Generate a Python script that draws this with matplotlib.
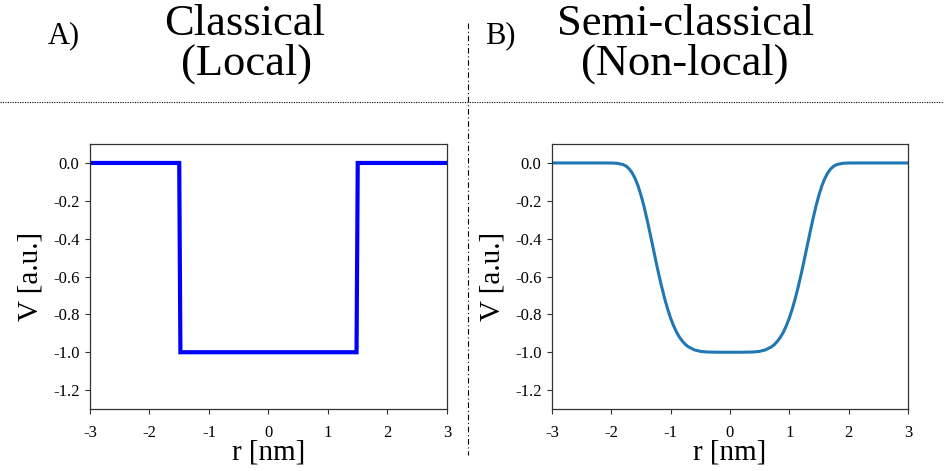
import matplotlib
matplotlib.use("Agg")
import matplotlib.pyplot as plt
from matplotlib.lines import Line2D

plt.rcParams['font.family'] = ['Liberation Serif', 'DejaVu Serif']
plt.rcParams['axes.unicode_minus'] = False

# classical (local) potential: hard square well
r_local = [-3.0, -1.5, -1.48, 1.48, 1.5, 3.0]
v_local = [0.0, 0.0, -1.0, -1.0, 0.0, 0.0]

# semi-classical (non-local) potential: smoothed well
r_nonlocal = [-3.0, -2.5, -2.2, -2.0, -1.9, -1.8, -1.75, -1.7, -1.65, -1.6, -1.55,
              -1.5, -1.45, -1.4, -1.35, -1.3, -1.25, -1.2, -1.15, -1.1, -1.05, -1.0,
              -0.95, -0.9, -0.85, -0.8, -0.75, -0.7, -0.6, -0.5, -0.4, -0.2, 0.0,
              0.2, 0.4, 0.5, 0.6, 0.7, 0.75, 0.8, 0.85, 0.9, 0.95, 1.0,
              1.05, 1.1, 1.15, 1.2, 1.25, 1.3, 1.35, 1.4, 1.45, 1.5, 1.55,
              1.6, 1.65, 1.7, 1.75, 1.8, 1.9, 2.0, 2.2, 2.5, 3.0]
v_nonlocal = [0.0, 0.0, 0.0, -0.0002, -0.0018, -0.0087, -0.0169, -0.0306, -0.0515, -0.081, -0.120,
              -0.170, -0.228, -0.295, -0.3665, -0.441, -0.5155, -0.588, -0.655, -0.717, -0.772, -0.820,
              -0.860, -0.894, -0.921, -0.942, -0.959, -0.9715, -0.9875, -0.9953, -0.9986, -1.0, -1.0,
              -1.0, -0.9986, -0.9953, -0.9875, -0.9715, -0.959, -0.942, -0.921, -0.894, -0.860, -0.820,
              -0.772, -0.717, -0.655, -0.588, -0.5155, -0.441, -0.3665, -0.295, -0.228, -0.170, -0.120,
              -0.081, -0.0515, -0.0306, -0.0169, -0.0087, -0.0018, -0.0002, 0.0, 0.0, 0.0]

x_ticks = [-3, -2, -1, 0, 1, 2, 3]
x_labels = ['-3', '-2', '-1', '0', '1', '2', '3']
y_ticks = [0.0, -0.2, -0.4, -0.6, -0.8, -1.0, -1.2]
y_labels = ['0.0', '-0.2', '-0.4', '-0.6', '-0.8', '-1.0', '-1.2']

fig = plt.figure(figsize=(9.44, 4.71), dpi=100)
ax_a = fig.add_axes([0.0953, 0.1316, 0.3782, 0.5626])
ax_b = fig.add_axes([0.5847, 0.1316, 0.3771, 0.5626])

ax_a.plot(r_local, v_local, color='#0000ff', lw=3.0, solid_joinstyle='miter')
ax_b.plot(r_nonlocal, v_nonlocal, color='#1f77b4', lw=2.2)

for ax in (ax_a, ax_b):
    ax.set_xlim(-3, 3)
    ax.set_ylim(-1.3, 0.1)
    ax.set_xticks(x_ticks)
    ax.set_xticklabels(x_labels)
    ax.set_yticks(y_ticks)
    ax.set_yticklabels(y_labels)
    ax.tick_params(direction='out', length=3.5, width=0.8, labelsize=12,
                   color='#333333', pad=4)
    ax.tick_params(axis='x', pad=8)
    for sp in ax.spines.values():
        sp.set_color('#333333')
        sp.set_linewidth(0.9)
    ax.set_xlabel('r [nm]', fontsize=21, labelpad=-1)
    ax.set_ylabel('V [a.u.]', fontsize=21, labelpad=7)

# titles and panel letters
fig.text(0.0508, 0.9087, 'A)', fontsize=22, va='baseline', ha='left')
fig.text(0.5138, 0.9087, 'B)', fontsize=22, va='baseline', ha='left')
fig.text(0.2595, 0.9257, 'Classical', fontsize=32, va='baseline', ha='center')
fig.text(0.2617, 0.8408, '(Local)', fontsize=32, va='baseline', ha='center')
fig.text(0.7267, 0.9257, 'Semi-classical', fontsize=32, va='baseline', ha='center')
fig.text(0.7257, 0.8408, '(Non-local)', fontsize=32, va='baseline', ha='center')

# separators
fig.add_artist(Line2D([0.0, 1.0], [0.784, 0.784], transform=fig.transFigure,
                      color='black', lw=0.8, linestyle=(0, (1, 1.2))))
fig.add_artist(Line2D([0.4958, 0.4958], [0.951, 0.034], transform=fig.transFigure,
                      color='black', lw=0.8, linestyle=(0, (5, 2.5, 1, 2.5))))

fig.savefig('out.png', dpi=100)
